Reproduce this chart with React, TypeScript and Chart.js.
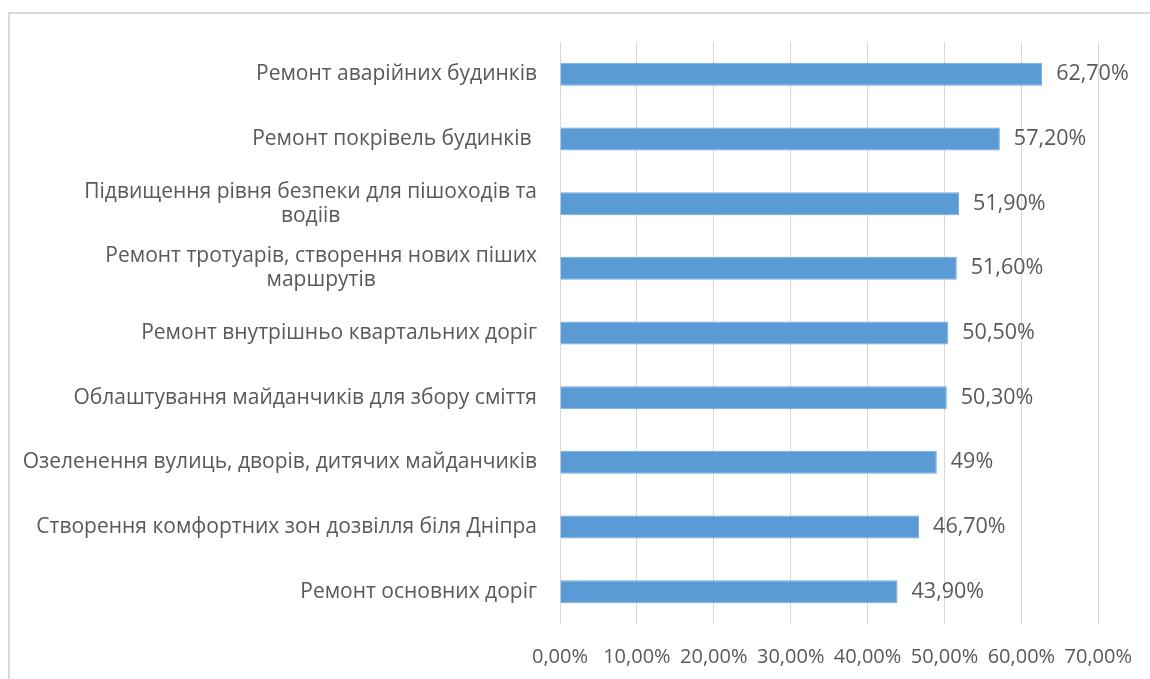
import React, { useEffect, useRef } from "react";
import { Chart, registerables } from "chart.js";

Chart.register(...registerables);

const categories: string[][] = [
  ["Ремонт аварійних будинків"],
  ["Ремонт покрівель будинків "],
  ["Підвищення рівня безпеки для пішоходів та", "водіів"],
  ["Ремонт тротуарів, створення нових піших", "маршрутів"],
  ["Ремонт внутрішньо квартальних доріг"],
  ["Облаштування майданчиків для збору сміття"],
  ["Озеленення вулиць, дворів, дитячих майданчиків"],
  ["Створення комфортних зон дозвілля біля Дніпра"],
  ["Ремонт основних доріг"],
];
const values: number[] = [62.7, 57.2, 51.9, 51.6, 50.5, 50.3, 49, 46.7, 43.9];
const valueLabels: string[] = ["62,70%", "57,20%", "51,90%", "51,60%", "50,50%", "50,30%", "49%", "46,70%", "43,90%"];
const tickLabels: string[] = ["0,00%", "10,00%", "20,00%", "30,00%", "40,00%", "50,00%", "60,00%", "70,00%"];

const FONT = "'Open Sans', sans-serif";
const TEXT = "#595959";

const frame = {
  id: "frame",
  beforeDraw(chart: any) {
    const ctx = chart.ctx;
    ctx.save();
    ctx.fillStyle = "#ffffff";
    ctx.fillRect(0, 0, chart.width, chart.height);
    ctx.strokeStyle = "#D9D9D9";
    ctx.lineWidth = 2;
    ctx.strokeRect(9, 13, 1300, 800);
    ctx.restore();
  },
};

const labelsPlugin = {
  id: "labelsPlugin",
  afterDatasetsDraw(chart: any) {
    const ctx = chart.ctx;
    const yScale = chart.scales.y;
    const meta = chart.getDatasetMeta(0);
    ctx.save();
    ctx.fillStyle = TEXT;
    ctx.font = `21px ${FONT}`;
    ctx.textBaseline = "middle";
    const rightX = chart.chartArea.left - 23;
    const lh = 24;
    categories.forEach((lines, i) => {
      const yc = yScale.getPixelForValue(i);
      const widths = lines.map((l) => ctx.measureText(l.trimEnd()).width);
      const maxW = Math.max(...widths);
      const cx = rightX - maxW / 2;
      lines.forEach((l, j) => {
        const y = yc + (j - (lines.length - 1) / 2) * lh;
        if (lines.length === 1) {
          ctx.textAlign = "right";
          ctx.fillText(l, rightX, y);
        } else {
          ctx.textAlign = "center";
          ctx.fillText(l, cx, y);
        }
      });
    });
    ctx.textAlign = "left";
    ctx.font = `21.5px ${FONT}`;
    meta.data.forEach((bar: any, i: number) => {
      ctx.fillText(valueLabels[i], bar.x + 14, bar.y);
    });
    ctx.restore();
  },
};

export default function App() {
  const ref = useRef<HTMLCanvasElement>(null);
  useEffect(() => {
    const chart = new Chart(ref.current!, {
      type: "bar",
      data: {
        labels: categories.map((c) => c.join(" ")),
        datasets: [
          {
            data: values,
            backgroundColor: "#5B9BD5",
            borderColor: "#71A9DD",
            borderWidth: 1,
            barPercentage: 0.355,
            categoryPercentage: 1,
          },
        ],
      },
      options: {
        indexAxis: "y",
        animation: false,
        responsive: false,
        maintainAspectRatio: false,
        layout: { padding: { left: 552, top: 42, right: 0, bottom: 10 } },
        plugins: { legend: { display: false }, tooltip: { enabled: false } },
        scales: {
          x: {
            min: 0,
            max: 70,
            grid: { color: "#D9D9D9", drawTicks: false, lineWidth: 1 },
            border: { display: false },
            ticks: {
              stepSize: 10,
              padding: 18,
              color: TEXT,
              font: { family: FONT, size: 20, lineHeight: 1.5 },
              maxRotation: 0,
              autoSkip: false,
              callback: (_v: any, i: number) => tickLabels[i],
            },
          },
          y: {
            grid: { display: false },
            border: { display: false },
            ticks: { display: false },
          },
        },
      },
      plugins: [frame, labelsPlugin],
    });
    return () => chart.destroy();
  }, []);
  return (
    <div style={{ position: "fixed", left: 0, top: 0, width: 1150, height: 679, overflow: "hidden", background: "#fff" }}>
      <canvas ref={ref} width={1150} height={700} style={{ width: 1150, height: 700, display: "block" }} />
    </div>
  );
}
